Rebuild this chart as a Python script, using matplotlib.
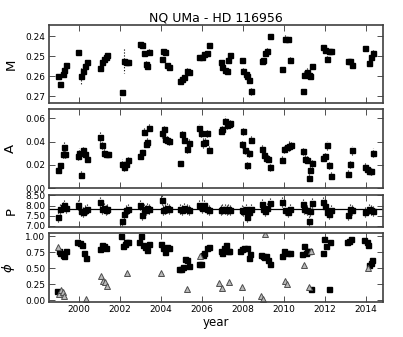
import numpy as np
import matplotlib
matplotlib.use('Agg')
import matplotlib.pyplot as plt
from matplotlib.ticker import FormatStrFormatter

# season data
t_M = [1998.99, 1999.1, 1999.2, 1999.27, 1999.35,
       1999.94, 2000.11, 2000.21, 2000.3, 2000.4,
       2001.02, 2001.14, 2001.24, 2001.32, 2001.38,
       2002.1, 2002.2, 2002.3, 2002.4,
       2002.98, 2003.07, 2003.16, 2003.26, 2003.33, 2003.41,
       2004.05, 2004.1, 2004.2, 2004.3, 2004.4,
       2004.93, 2005.02, 2005.12, 2005.25, 2005.37,
       2005.98, 2006.1, 2006.23, 2006.36, 2005.85,
       2006.91, 2007.0, 2007.1, 2007.2, 2007.28, 2007.37,
       2007.93, 2008.01, 2008.13, 2008.21, 2008.29, 2008.37,
       2008.94, 2008.99, 2009.09, 2009.19, 2009.32,
       2009.92, 2010.06, 2010.2, 2010.31,
       2010.91, 2010.99, 2011.11, 2011.2, 2011.28, 2011.37,
       2011.92, 2012.02, 2012.1, 2012.2, 2012.29,
       2013.1, 2013.2, 2013.3,
       2013.95, 2014.15, 2014.24, 2014.34]
M = [0.2597, 0.2638, 0.259, 0.257, 0.2545,
     0.248, 0.2597, 0.2575, 0.255, 0.2527,
     0.256, 0.253, 0.2513, 0.2503, 0.2492,
     0.268, 0.2525, 0.253, 0.253,
     0.2438, 0.2445, 0.2483, 0.2537, 0.255, 0.248,
     0.2513, 0.2475, 0.2478, 0.2545, 0.2555,
     0.2622, 0.2613, 0.2603, 0.2575, 0.258,
     0.2503, 0.2488, 0.2483, 0.2445, 0.2503,
     0.2528, 0.2555, 0.2567, 0.2572, 0.2517, 0.2492,
     0.252, 0.2575, 0.2587, 0.2597, 0.2617, 0.2677,
     0.2525, 0.252, 0.2483, 0.2475, 0.2397,
     0.2563, 0.2412, 0.2412, 0.2517,
     0.2673, 0.2593, 0.258, 0.2592, 0.2597, 0.255,
     0.2455, 0.2467, 0.2512, 0.2472, 0.2472,
     0.2522, 0.2525, 0.2543,
     0.246, 0.2533, 0.2505, 0.2483]
M_err = [0.001, 0.001, 0.0012, 0.001, 0.001,
         0.001, 0.004, 0.002, 0.0015, 0.001,
         0.0015, 0.001, 0.001, 0.001, 0.001,
         0.001, 0.006, 0.0015, 0.001,
         0.001, 0.001, 0.001, 0.0015, 0.001, 0.0015,
         0.001, 0.001, 0.0015, 0.001, 0.001,
         0.001, 0.001, 0.001, 0.0015, 0.001,
         0.001, 0.001, 0.001, 0.001, 0.001,
         0.001, 0.0015, 0.001, 0.001, 0.0015, 0.001,
         0.001, 0.0015, 0.001, 0.0015, 0.0015, 0.002,
         0.0015, 0.001, 0.0015, 0.0015, 0.001,
         0.001, 0.002, 0.001, 0.0015,
         0.001, 0.002, 0.002, 0.0015, 0.0015, 0.001,
         0.001, 0.001, 0.0015, 0.001, 0.001,
         0.001, 0.001, 0.001,
         0.0012, 0.0015, 0.001, 0.0015]

t_A = [1999.0, 1999.09, 1999.2, 1999.27, 1999.34,
       1999.94, 2000.01, 2000.1, 2000.21, 2000.3, 2000.4,
       2001.02, 2001.12, 2001.2, 2001.32, 2001.43,
       2002.1, 2002.2, 2002.3, 2002.4,
       2002.98, 2003.06, 2003.16, 2003.26, 2003.34, 2003.41,
       2004.05, 2004.15, 2004.2, 2004.3, 2004.4,
       2004.93, 2005.02, 2005.12, 2005.25, 2005.37,
       2005.85, 2005.95, 2006.03, 2006.15, 2006.26, 2006.36,
       2006.91, 2007.0, 2007.12, 2007.2, 2007.32, 2007.37,
       2007.93, 2007.98, 2008.1, 2008.2, 2008.27, 2008.37,
       2008.94, 2009.04, 2009.13, 2009.22, 2009.32,
       2009.92, 2010.02, 2010.14, 2010.25, 2010.35,
       2010.91, 2011.02, 2011.12, 2011.21, 2011.29, 2011.38,
       2011.92, 2012.0, 2012.08, 2012.18, 2012.29,
       2013.1, 2013.2, 2013.3,
       2013.95, 2014.07, 2014.15, 2014.24, 2014.34]
A = [0.0159, 0.0194, 0.029, 0.0353, 0.029,
     0.0275, 0.0304, 0.0116, 0.0324, 0.029, 0.0252,
     0.044, 0.0368, 0.0304, 0.029, 0.029,
     0.0209, 0.018, 0.0209, 0.0237,
     0.0275, 0.031, 0.0484, 0.0382, 0.0397, 0.052,
     0.047, 0.0504, 0.0426, 0.0417, 0.0403,
     0.0217, 0.0463, 0.0417, 0.0339, 0.0388,
     0.0513, 0.047, 0.0388, 0.0397, 0.047, 0.033,
     0.0492, 0.0504, 0.0579, 0.0542, 0.055, 0.0557,
     0.0377, 0.049, 0.033, 0.0194, 0.0301, 0.0417,
     0.0339, 0.0287, 0.026, 0.0252, 0.018,
     0.0243, 0.0333, 0.0353, 0.0362, 0.0368,
     0.0318, 0.0252, 0.0243, 0.0087, 0.0157, 0.0214,
     0.026, 0.0272, 0.0368, 0.0194, 0.0107,
     0.0122, 0.0203, 0.0324,
     0.0185, 0.0165, 0.0148, 0.0143, 0.0304]
A_err = [0.002, 0.002, 0.003, 0.004, 0.003,
         0.003, 0.004, 0.003, 0.003, 0.003, 0.002,
         0.004, 0.003, 0.003, 0.002, 0.002,
         0.004, 0.003, 0.003, 0.003,
         0.002, 0.003, 0.003, 0.003, 0.003, 0.003,
         0.004, 0.003, 0.003, 0.003, 0.003,
         0.002, 0.003, 0.003, 0.004, 0.003,
         0.004, 0.003, 0.004, 0.003, 0.003, 0.003,
         0.003, 0.003, 0.004, 0.003, 0.003, 0.003,
         0.003, 0.003, 0.004, 0.003, 0.003, 0.003,
         0.003, 0.003, 0.003, 0.003, 0.003,
         0.003, 0.003, 0.003, 0.004, 0.003,
         0.003, 0.003, 0.003, 0.003, 0.003, 0.003,
         0.003, 0.003, 0.004, 0.003, 0.003,
         0.003, 0.003, 0.004,
         0.003, 0.003, 0.003, 0.003, 0.004]

t_P = t_M
P = [7.46, 7.85, 7.95, 8.02, 7.9,
     8.04, 7.75, 7.7, 7.8, 7.85,
     8.2, 7.85, 7.9, 7.8, 7.85,
     7.26, 7.6, 7.8, 7.85,
     8.04, 7.55, 7.85, 7.8, 7.9, 7.85,
     8.29, 7.8, 7.85, 7.9, 7.85,
     7.85, 7.8, 7.9, 7.85, 7.8,
     7.9, 8.04, 7.85, 7.8, 8.04,
     7.8, 7.85, 7.85, 7.8, 7.85, 7.8,
     7.8, 7.75, 7.85, 7.46, 7.7, 7.85,
     8.09, 7.85, 7.75, 7.9, 8.12,
     8.2, 7.8, 7.7, 7.85,
     8.09, 7.85, 7.8, 7.26, 7.75, 8.12,
     8.17, 8.0, 7.7, 7.6, 7.8,
     7.55, 7.85, 7.8,
     7.7, 7.85, 7.8, 7.75]
P_err = [0.25] * len(P)
P_mean = 7.84

t_phi = [1998.94, 1999.04, 1999.1, 1999.2, 1999.27, 1999.35,
         1999.92, 2000.05, 2000.15, 2000.24, 2000.36,
         2001.02, 2001.12, 2001.22, 2001.32,
         2002.05, 2002.15, 2002.24, 2002.3, 2002.38,
         2002.94, 2003.03, 2003.14, 2003.24, 2003.32, 2003.41,
         2004.01, 2004.1, 2004.2, 2004.3, 2004.4,
         2004.89, 2004.99, 2005.09, 2005.17, 2005.25, 2005.35,
         2005.85, 2005.95, 2006.03, 2006.1, 2006.23, 2006.33,
         2006.91, 2006.97, 2007.08, 2007.17, 2007.25, 2007.34,
         2007.85, 2007.95, 2008.05, 2008.2, 2008.28, 2008.36,
         2008.88, 2008.97, 2009.05, 2009.13, 2009.22, 2009.32,
         2009.89, 2010.02, 2010.14, 2010.28,
         2010.86, 2010.98, 2011.05, 2011.12, 2011.24, 2011.33,
         2011.89, 2011.97, 2012.05, 2012.18, 2012.25,
         2013.06, 2013.17, 2013.27,
         2013.92, 2014.03, 2014.11, 2014.16, 2014.23, 2014.3]
phi = [0.145, 0.77, 0.74, 0.71, 0.69, 0.77,
       0.9, 0.885, 0.86, 0.74, 0.65,
       0.8, 0.86, 0.85, 0.82,
       1.0, 0.84, 0.87, 0.9, 0.91,
       0.9, 1.0, 0.86, 0.83, 0.78, 0.88,
       0.88, 0.81, 0.755, 0.83, 0.81,
       0.485, 0.48, 0.52, 0.635, 0.62, 0.53,
       0.56, 0.57, 0.70, 0.74, 0.81, 0.83,
       0.77, 0.73, 0.82, 0.86, 0.77, 0.76,
       0.76, 0.79, 0.82, 0.82, 0.65, 0.72,
       0.70, 0.69, 0.67, 0.69, 0.625, 0.56,
       0.69, 0.77, 0.74, 0.73,
       0.72, 0.85, 0.73, 0.76, 0.77, 0.167,
       0.73, 0.95, 0.84, 0.18, 0.9,
       0.9, 0.92, 0.96,
       0.94, 0.9, 0.86, 0.55, 0.58, 0.63]

t_phi2 = [1998.97, 1999.04, 1999.12, 1999.2, 1999.27,
          2000.34, 2001.07, 2001.18, 2001.28, 2001.37,
          2002.33, 2004.0, 2005.25, 2005.88,
          2006.85, 2006.97, 2007.34, 2007.97,
          2008.88, 2008.97, 2009.08,
          2010.06, 2010.17, 2010.98, 2011.24, 2011.32, 2014.08]
phi2 = [0.83, 0.10, 0.16, 0.13, 0.06,
        0.01, 0.375, 0.29, 0.28, 0.22,
        0.42, 0.42, 0.167, 0.69,
        0.27, 0.19, 0.28, 0.2,
        0.07, 0.016, 1.03,
        0.29, 0.25, 0.55, 0.2, 0.76, 0.5]

year_ticks = [2000, 2002, 2004, 2006, 2008, 2010, 2012, 2014]

plt.rcParams['font.family'] = 'DejaVu Sans'
fig = plt.figure(figsize=(4.03, 3.37), dpi=100)

L, W = 0.1216, 0.8288
ax1 = fig.add_axes([L, 0.6944, W, 0.2315])
ax2 = fig.add_axes([L, 0.4421, W, 0.2344])
ax3 = fig.add_axes([L, 0.3264, W, 0.0950])
ax4 = fig.add_axes([L, 0.1039, W, 0.2047])
axes = [ax1, ax2, ax3, ax4]


def pts(ax, t, y, err):
    eb = ax.errorbar(t, y, yerr=err, fmt='s', color='k', ms=3.6,
                     mec='k', ecolor='k', elinewidth=0.8, capsize=0)
    eb[-1][0].set_linestyle(':')


pts(ax1, t_M, M, M_err)
pts(ax2, t_A, A, A_err)
pts(ax3, t_P, P, P_err)
ax3.axhline(P_mean, color='k', lw=0.9)
ax4.plot(t_phi, phi, 's', color='k', ms=3.6)
ax4.plot(t_phi2, phi2, '^', mfc='0.72', mec='0.3', ms=4, mew=0.7)

ax1.set_ylim(0.2735, 0.2342)
ax1.set_yticks([0.24, 0.25, 0.26, 0.27])
ax1.yaxis.set_major_formatter(FormatStrFormatter('%.2f'))
ax1.set_ylabel('M', fontsize=9.5)

ax2.set_ylim(0, 0.068)
ax2.set_yticks([0.0, 0.02, 0.04, 0.06])
ax2.yaxis.set_major_formatter(FormatStrFormatter('%.2f'))
ax2.set_ylabel('A', fontsize=9.5)

ax3.set_ylim(6.95, 8.52)
ax3.set_yticks([7.0, 7.5, 8.0, 8.5])
ax3.yaxis.set_major_formatter(FormatStrFormatter('%.2f'))
ax3.set_ylabel('P', fontsize=9.5)

ax4.set_ylim(-0.03, 1.047)
ax4.set_yticks([0.0, 0.25, 0.5, 0.75, 1.0])
ax4.yaxis.set_major_formatter(FormatStrFormatter('%.2f'))
ax4.set_ylabel(r'$\phi$', fontsize=9.5)
ax4.set_xlabel('year', fontsize=8.5, labelpad=1)

for ax in axes:
    ax.set_xlim(1998.54, 2014.83)
    ax.set_xticks(year_ticks)
    ax.tick_params(direction='in', top=True, right=True, labelsize=6.5,
                   length=4, width=0.6, colors='0.2', labelcolor='k', pad=2.5)
    for s in ax.spines.values():
        s.set_color('0.25')
        s.set_linewidth(1.2)
    ax.yaxis.set_label_coords(-0.095, 0.5)
for ax in axes[:-1]:
    ax.tick_params(labelbottom=False)

ax1.set_title('NQ UMa - HD 116956', fontsize=9, pad=2)

fig.savefig('out.png', dpi=100)
